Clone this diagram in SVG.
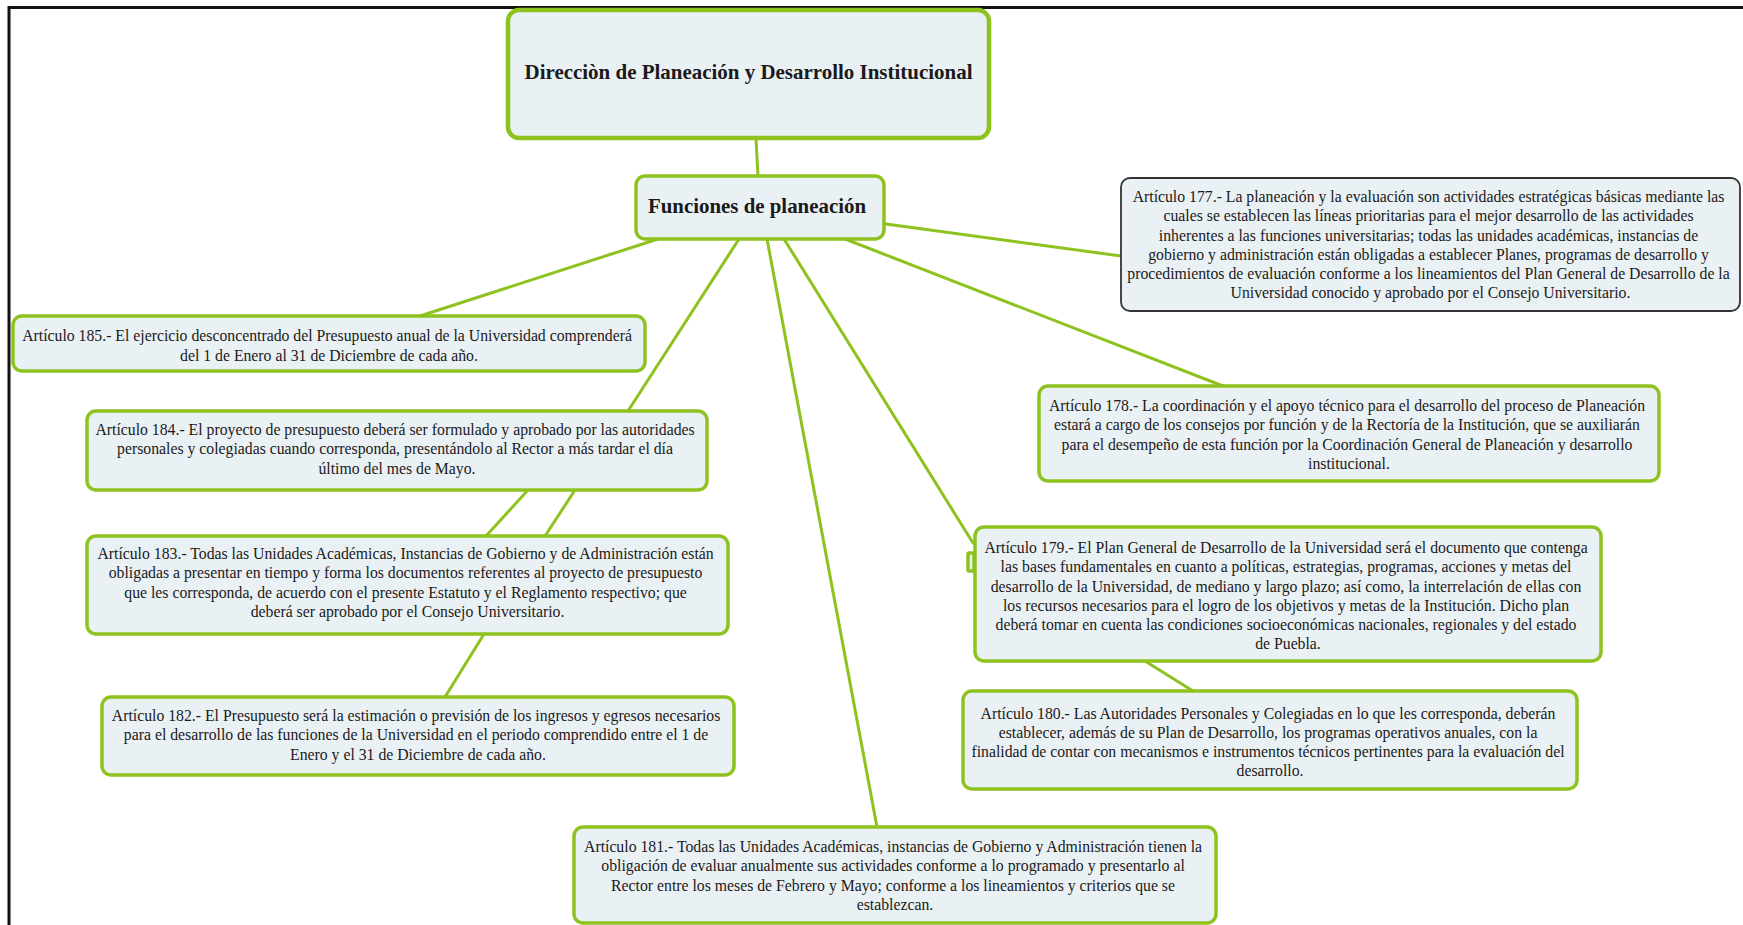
<svg xmlns="http://www.w3.org/2000/svg" width="1743" height="925" viewBox="0 0 1743 925">
  <style>
    .box { fill: #eaf1f4; stroke: #8dc21f; stroke-width: 3.5; }
    .box.main { stroke-width: 4.5; }
    .box.dark { stroke: #333333; stroke-width: 1.8; }
    .body { font-family: "Liberation Serif", "Times New Roman", serif; font-size: 17px; fill: #1a1a1a; text-anchor: middle; }
    .head { font-family: "Liberation Serif", "Times New Roman", serif; font-size: 21px; font-weight: bold; fill: #1a1a1a; text-anchor: middle; }
    #connectors line { stroke: #8dc21f; stroke-width: 3; stroke-linecap: round; }
    .frame { stroke: #111111; stroke-width: 3; fill: none; }
  </style>

  <rect width="1743" height="925" fill="#ffffff"/>
  <!-- page frame -->
  <path class="frame" d="M9 925 V7.5 H1743"/>

  <g id="connectors">
    <line x1="756" y1="139" x2="758" y2="176"/>
    <line x1="886" y1="224" x2="1121" y2="256"/>
    <line x1="845" y1="239" x2="1223" y2="386"/>
    <line x1="784" y1="239" x2="973" y2="543"/>
    <line x1="767" y1="239" x2="877" y2="827"/>
    <line x1="739" y1="239" x2="628" y2="411"/>
    <line x1="658" y1="239" x2="420" y2="316"/>
    <line x1="528" y1="490" x2="486" y2="536"/>
    <line x1="575" y1="490" x2="545" y2="536"/>
    <line x1="484" y1="634" x2="445" y2="697"/>
    <line x1="1145" y1="661" x2="1193" y2="691"/>
  </g>

  <g id="direccion">
    <rect class="box main" x="508" y="10" width="481" height="128" rx="11"/>
    <text class="head" x="748.5" y="79" textLength="448" lengthAdjust="spacingAndGlyphs">Direcciòn de Planeación y Desarrollo Institucional</text>
  </g>

  <g id="funciones">
    <rect class="box" x="636" y="176" width="248" height="63" rx="9"/>
    <text class="head" x="757" y="213" textLength="218" lengthAdjust="spacingAndGlyphs">Funciones de planeación</text>
  </g>

  <g id="art177">
    <rect class="box dark" x="1121" y="178" width="619" height="133" rx="9"/>
    <g transform="translate(1430.5 0) scale(0.928 1)">
      <text class="body">
        <tspan x="0" y="202">Artículo 177.- La planeación y la evaluación son actividades estratégicas básicas mediante las</tspan>
        <tspan x="0" y="221.3">cuales se establecen las líneas prioritarias para el mejor desarrollo de las actividades</tspan>
        <tspan x="0" y="240.6">inherentes a las funciones universitarias; todas las unidades académicas, instancias de</tspan>
        <tspan x="0" y="259.9">gobierno y administración están obligadas a establecer Planes, programas de desarrollo y</tspan>
        <tspan x="0" y="279.2">procedimientos de evaluación conforme a los lineamientos del Plan General de Desarrollo de la</tspan>
        <tspan x="0" y="298.5">Universidad conocido y aprobado por el Consejo Universitario.</tspan>
      </text>
    </g>
  </g>

  <g id="art185">
    <rect class="box" x="13" y="316" width="632" height="55" rx="9"/>
    <g transform="translate(329 0) scale(0.928 1)">
      <text class="body">
        <tspan x="0" y="341">Artículo 185.- El ejercicio desconcentrado del Presupuesto anual de la Universidad comprenderá</tspan>
        <tspan x="0" y="361">del 1 de Enero al 31 de Diciembre de cada año.</tspan>
      </text>
    </g>
  </g>

  <g id="art184">
    <rect class="box" x="87" y="411" width="620" height="79" rx="9"/>
    <g transform="translate(397 0) scale(0.928 1)">
      <text class="body">
        <tspan x="0" y="435">Artículo 184.- El proyecto de presupuesto deberá ser formulado y aprobado por las autoridades</tspan>
        <tspan x="0" y="454.5">personales y colegiadas cuando corresponda, presentándolo al Rector a más tardar el día</tspan>
        <tspan x="0" y="474">último del mes de Mayo.</tspan>
      </text>
    </g>
  </g>

  <g id="art183">
    <rect class="box" x="87" y="536" width="641" height="98" rx="9"/>
    <g transform="translate(407.5 0) scale(0.928 1)">
      <text class="body">
        <tspan x="0" y="559">Artículo 183.- Todas las Unidades Académicas, Instancias de Gobierno y de Administración están</tspan>
        <tspan x="0" y="578.5">obligadas a presentar en tiempo y forma los documentos referentes al proyecto de presupuesto</tspan>
        <tspan x="0" y="598">que les corresponda, de acuerdo con el presente Estatuto y el Reglamento respectivo; que</tspan>
        <tspan x="0" y="617.5">deberá ser aprobado por el Consejo Universitario.</tspan>
      </text>
    </g>
  </g>

  <g id="art182">
    <rect class="box" x="102" y="697" width="632" height="78" rx="9"/>
    <g transform="translate(418 0) scale(0.928 1)">
      <text class="body">
        <tspan x="0" y="721">Artículo 182.- El Presupuesto será la estimación o previsión de los ingresos y egresos necesarios</tspan>
        <tspan x="0" y="740.5">para el desarrollo de las funciones de la Universidad en el periodo comprendido entre el 1 de</tspan>
        <tspan x="0" y="760">Enero y el 31 de Diciembre de cada año.</tspan>
      </text>
    </g>
  </g>

  <g id="art181">
    <rect class="box" x="574" y="827" width="642" height="96" rx="9"/>
    <g transform="translate(895 0) scale(0.928 1)">
      <text class="body">
        <tspan x="0" y="852">Artículo 181.- Todas las Unidades Académicas, instancias de Gobierno y Administración tienen la</tspan>
        <tspan x="0" y="871.5">obligación de evaluar anualmente sus actividades conforme a lo programado y presentarlo al</tspan>
        <tspan x="0" y="891">Rector entre los meses de Febrero y Mayo; conforme a los lineamientos y criterios que se</tspan>
        <tspan x="0" y="910.5">establezcan.</tspan>
      </text>
    </g>
  </g>

  <g id="art178">
    <rect class="box" x="1039" y="386" width="620" height="95" rx="9"/>
    <g transform="translate(1349 0) scale(0.928 1)">
      <text class="body">
        <tspan x="0" y="411">Artículo 178.- La coordinación y el apoyo técnico para el desarrollo del proceso de Planeación</tspan>
        <tspan x="0" y="430.5">estará a cargo de los consejos por función y de la Rectoría de la Institución, que se auxiliarán</tspan>
        <tspan x="0" y="450">para el desempeño de esta función por la Coordinación General de Planeación y desarrollo</tspan>
        <tspan x="0" y="469.5">institucional.</tspan>
      </text>
    </g>
  </g>

  <g id="art179">
    <rect class="box" x="968" y="553" width="6" height="18" rx="1"/>
    <rect class="box" x="975" y="527" width="626" height="134" rx="9"/>
    <g transform="translate(1288 0) scale(0.928 1)">
      <text class="body">
        <tspan x="0" y="553">Artículo 179.- El Plan General de Desarrollo de la Universidad será el documento que contenga</tspan>
        <tspan x="0" y="572.3">las bases fundamentales en cuanto a políticas, estrategias, programas, acciones y metas del</tspan>
        <tspan x="0" y="591.6">desarrollo de la Universidad, de mediano y largo plazo; así como, la interrelación de ellas con</tspan>
        <tspan x="0" y="610.9">los recursos necesarios para el logro de los objetivos y metas de la Institución. Dicho plan</tspan>
        <tspan x="0" y="630.2">deberá tomar en cuenta las condiciones socioeconómicas nacionales, regionales y del estado</tspan>
        <tspan x="0" y="649.5">de Puebla.</tspan>
      </text>
    </g>
  </g>

  <g id="art180">
    <rect class="box" x="963" y="691" width="614" height="98" rx="9"/>
    <g transform="translate(1270 0) scale(0.928 1)">
      <text class="body">
        <tspan x="0" y="719">Artículo 180.- Las Autoridades Personales y Colegiadas en lo que les corresponda, deberán</tspan>
        <tspan x="0" y="738">establecer, además de su Plan de Desarrollo, los programas operativos anuales, con la</tspan>
        <tspan x="0" y="757">finalidad de contar con mecanismos e instrumentos técnicos pertinentes para la evaluación del</tspan>
        <tspan x="0" y="776">desarrollo.</tspan>
      </text>
    </g>
  </g>
</svg>
